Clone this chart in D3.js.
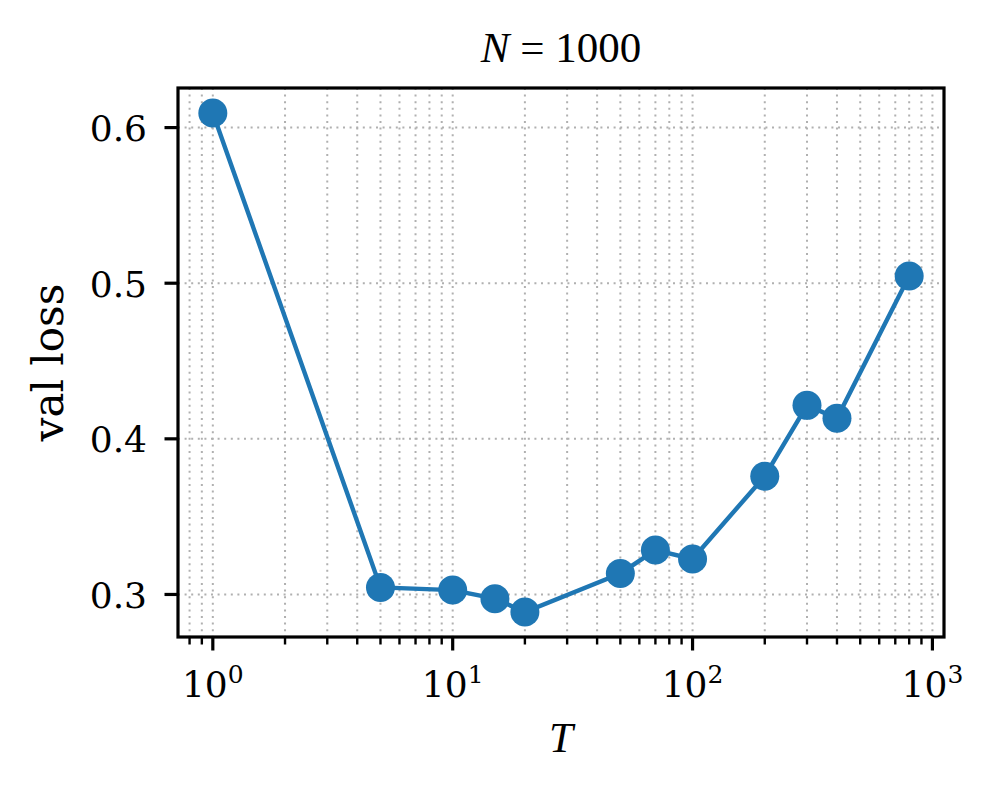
<!DOCTYPE html>
<html>
<head>
<meta charset="utf-8">
<script src="https://cdn.jsdelivr.net/npm/d3@7"></script>
<style>
  body { margin: 0; background: #fff; }
  svg { display: block; }
</style>
</head>
<body>
<div id="chart"></div>
<script>
// data
var t_values = [1, 5, 10, 15, 20, 50, 70, 100, 200, 300, 400, 800];
var val_loss = [0.6094, 0.3045, 0.3028, 0.2973, 0.2887, 0.3135, 0.3285, 0.3228, 0.3760, 0.4215, 0.4132, 0.5047];
var y_ticks = [0.3, 0.4, 0.5, 0.6];
var x_major = [1, 10, 100, 1000];

var W = 997, H = 794;
var margin = {top: 88, right: 53, bottom: 157, left: 178};
var width = W - margin.left - margin.right;
var height = H - margin.top - margin.bottom;
var blue = "#1f77b4";

// matplotlib-like 5% padding
var lx = t_values.map(function(d) { return Math.log10(d); });
var lx0 = d3.min(lx), lx1 = d3.max(lx), lpad = (lx1 - lx0) * 0.05;
var y0 = d3.min(val_loss), y1 = d3.max(val_loss), ypad = (y1 - y0) * 0.05;

var x = d3.scaleLog()
    .domain([Math.pow(10, lx0 - lpad), Math.pow(10, lx1 + lpad)])
    .range([0, width]);
var y = d3.scaleLinear()
    .domain([y0 - ypad, y1 + ypad])
    .range([height, 0]);

var svg = d3.select("#chart").append("svg")
    .attr("width", W)
    .attr("height", H);

var g = svg.append("g")
    .attr("transform", "translate(" + margin.left + "," + margin.top + ")");

var all_x = x.ticks();
var isMajor = function(d) { return Math.abs(Math.log10(d) - Math.round(Math.log10(d))) < 1e-9; };

// grid
g.append("g").selectAll("line")
    .data(all_x)
  .enter().append("line")
    .attr("x1", function(d) { return x(d); })
    .attr("x2", function(d) { return x(d); })
    .attr("y1", 0).attr("y2", height)
    .attr("stroke", "#b0b0b0")
    .attr("stroke-width", 2)
    .attr("stroke-dasharray", "2,4.6");

g.append("g").selectAll("line")
    .data(y_ticks)
  .enter().append("line")
    .attr("x1", 0).attr("x2", width)
    .attr("y1", function(d) { return y(d); })
    .attr("y2", function(d) { return y(d); })
    .attr("stroke", "#b0b0b0")
    .attr("stroke-width", 2)
    .attr("stroke-dasharray", "2,4.6");

// x axis ticks
var xa = g.append("g").attr("transform", "translate(0," + height + ")");
xa.selectAll("line")
    .data(all_x)
  .enter().append("line")
    .attr("x1", function(d) { return x(d); })
    .attr("x2", function(d) { return x(d); })
    .attr("y1", 0)
    .attr("y2", function(d) { return isMajor(d) ? 13.5 : 7.5; })
    .attr("stroke", "#000")
    .attr("stroke-width", function(d) { return isMajor(d) ? 3.2 : 2.4; });

var xl = xa.selectAll("text")
    .data(x_major)
  .enter().append("text")
    .attr("x", function(d) { return x(d); })
    .attr("y", 60)
    .attr("text-anchor", "middle")
    .attr("font-family", "DejaVu Serif")
    .attr("font-size", 36)
    .attr("fill", "#000");
xl.append("tspan").text("10");
xl.append("tspan")
    .attr("font-size", 25)
    .attr("dy", -14)
    .text(function(d) { return Math.round(Math.log10(d)); });

// y axis ticks
var ya = g.append("g");
ya.selectAll("line")
    .data(y_ticks)
  .enter().append("line")
    .attr("x1", -13.5).attr("x2", 0)
    .attr("y1", function(d) { return y(d); })
    .attr("y2", function(d) { return y(d); })
    .attr("stroke", "#000")
    .attr("stroke-width", 3.2);
ya.selectAll("text")
    .data(y_ticks)
  .enter().append("text")
    .attr("x", -31)
    .attr("y", function(d) { return y(d); })
    .attr("dy", "0.37em")
    .attr("text-anchor", "end")
    .attr("font-family", "DejaVu Serif")
    .attr("font-size", 36)
    .attr("fill", "#000")
    .text(function(d) { return d.toFixed(1); });

// line + markers
var line = d3.line()
    .x(function(d, i) { return x(t_values[i]); })
    .y(function(d) { return y(d); });

g.append("path")
    .datum(val_loss)
    .attr("d", line)
    .attr("fill", "none")
    .attr("stroke", blue)
    .attr("stroke-width", 4.4);

g.selectAll("circle")
    .data(val_loss)
  .enter().append("circle")
    .attr("cx", function(d, i) { return x(t_values[i]); })
    .attr("cy", function(d) { return y(d); })
    .attr("r", 14.5)
    .attr("fill", blue);

// frame
g.append("rect")
    .attr("width", width).attr("height", height)
    .attr("fill", "none")
    .attr("stroke", "#000")
    .attr("stroke-width", 3.2);

// labels
svg.append("text")
    .attr("x", margin.left + width / 2)
    .attr("y", 62)
    .attr("text-anchor", "middle")
    .attr("font-family", "Liberation Serif")
    .attr("font-size", 43)
    .html('<tspan font-style="italic">N</tspan> = 1000');

svg.append("text")
    .attr("x", margin.left + width / 2)
    .attr("y", 752)
    .attr("text-anchor", "middle")
    .attr("font-family", "Liberation Serif")
    .attr("font-style", "italic")
    .attr("font-size", 43)
    .text("T");

svg.append("text")
    .attr("transform", "translate(63," + (margin.top + height / 2) + ") rotate(-90)")
    .attr("text-anchor", "middle")
    .attr("font-family", "DejaVu Serif")
    .attr("font-size", 42)
    .text("val loss");
</script>
</body>
</html>
